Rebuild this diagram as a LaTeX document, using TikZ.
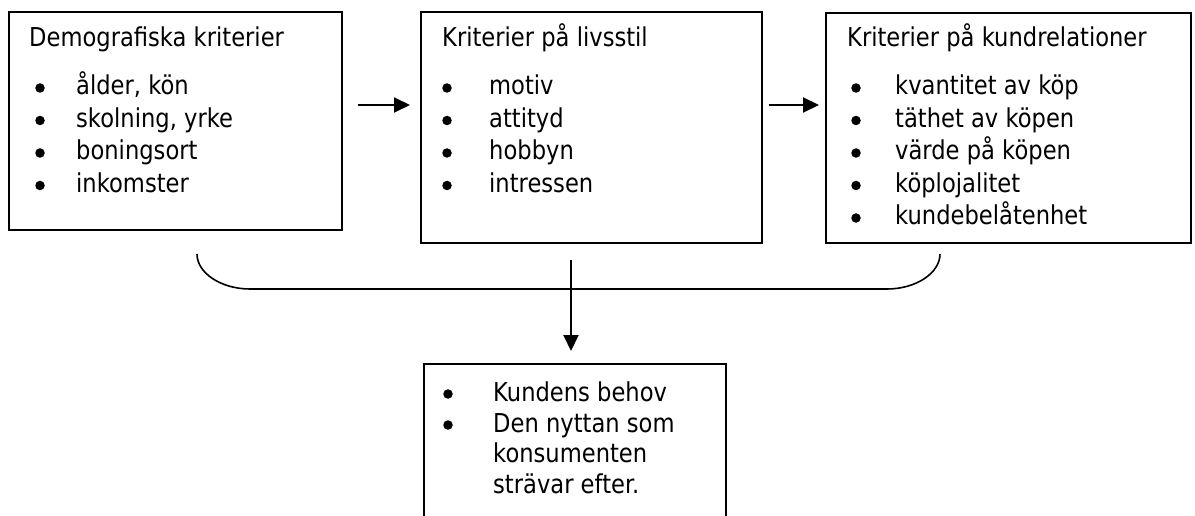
\documentclass[tikz,border=0pt]{standalone}
\usepackage{fontspec}
\setmainfont{DejaVu Sans}[FakeStretch=0.87]
\usetikzlibrary{arrows.meta}
\tikzset{
  box/.style={draw, line width=1.6pt, rectangle, anchor=north west, inner sep=0pt},
  txt/.style={anchor=base west, inner sep=0pt, font=\fontsize{26}{32}\selectfont},
  bul/.style={circle, fill, inner sep=0pt, minimum size=9.5pt},
  arr/.style={line width=2pt, -{Triangle[length=16pt,width=15pt]}},
  brace/.style={line width=1.6pt}
}
\begin{document}
\begin{tikzpicture}[x=1pt,y=-1pt]
\useasboundingbox (0,0) rectangle (1195,516);
% boxes
\node[box, minimum width=333pt, minimum height=218pt] (b1) at (8,11) {};
\node[box, minimum width=341pt, minimum height=231pt] (b2) at (420,11) {};
\node[box, minimum width=365pt, minimum height=230pt] (b3) at (825,12) {};
\node[box, minimum width=302pt, minimum height=180pt] (b4) at (423,363) {};
% box 1 text
\node[txt] (t1) at (29,47) {Demografiska kriterier};
\node[bul] (t1a0) at (40,88) {}; \node[txt] (t1a) at (76,95) {ålder, kön};
\node[bul] (t1b0) at (40,120.5) {}; \node[txt] (t1b) at (76,127.5) {skolning, yrke};
\node[bul] (t1c0) at (40,153) {}; \node[txt] (t1c) at (76,160) {boningsort};
\node[bul] (t1d0) at (40,185.5) {}; \node[txt] (t1d) at (76,192.5) {inkomster};
% box 2 text
\node[txt] (t2) at (442,47) {Kriterier på livsstil};
\node[bul] (t2a0) at (447,88) {}; \node[txt] (t2a) at (489,95) {motiv};
\node[bul] (t2b0) at (447,120.5) {}; \node[txt] (t2b) at (489,127.5) {attityd};
\node[bul] (t2c0) at (447,153) {}; \node[txt] (t2c) at (489,160) {hobbyn};
\node[bul] (t2d0) at (447,185.5) {}; \node[txt] (t2d) at (489,192.5) {intressen};
% box 3 text
\node[txt] (t3) at (847,47) {Kriterier på kundrelationer};
\node[bul] (t3a0) at (856,88) {}; \node[txt] (t3a) at (895,95) {kvantitet av köp};
\node[bul] (t3b0) at (856,120.5) {}; \node[txt] (t3b) at (895,127.5) {täthet av köpen};
\node[bul] (t3c0) at (856,153) {}; \node[txt] (t3c) at (895,160) {värde på köpen};
\node[bul] (t3d0) at (856,185.5) {}; \node[txt] (t3d) at (895,192.5) {köplojalitet};
\node[bul] (t3e0) at (856,218) {}; \node[txt] (t3e) at (895,225) {kundebelåtenhet};
% box 4 text
\node[bul] (t4a0) at (448,394) {}; \node[txt] (t4a) at (493,401) {Kundens behov};
\node[bul] (t4b0) at (448,425) {}; \node[txt] (t4b) at (493,432) {Den nyttan som};
\node[txt] (t4c) at (493,462) {konsumenten};
\node[txt] (t4d) at (493,493) {strävar efter.};
% arrows
\coordinate (row) at (0,105);
\coordinate (vtop) at (571,260);
\draw[arr, shorten <=15pt, shorten >=10pt] (b1.east |- row) -- (b2.west |- row);
\draw[arr, shorten <=6pt, shorten >=6pt] (b2.east |- row) -- (b3.west |- row);
\draw[arr, shorten >=12pt] (vtop) -- (vtop |- b4.north);
% brace
\coordinate (bl) at (197,254);
\coordinate (br) at (940,254);
\draw[brace] (bl) .. controls (197,273) and (221,289) .. (250,289) -- (887,289)
  .. controls (916,289) and (940,273) .. (br);
\end{tikzpicture}
\end{document}
